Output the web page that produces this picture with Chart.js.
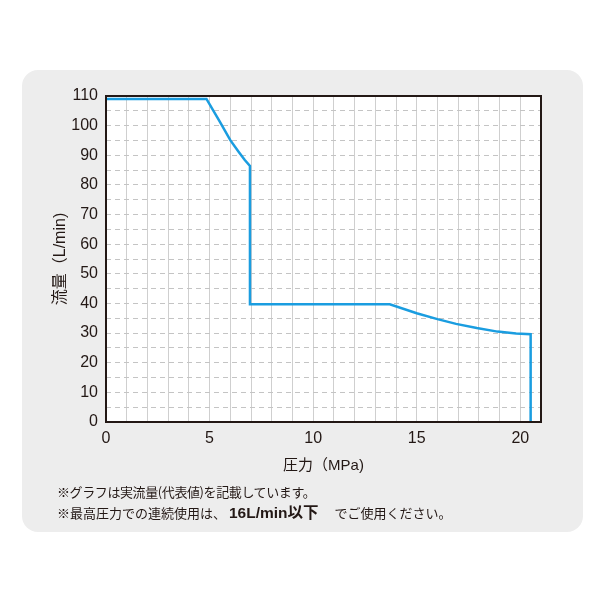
<!DOCTYPE html>
<html>
<head>
<meta charset="utf-8">
<script src="https://cdn.jsdelivr.net/npm/chart.js@4/dist/chart.umd.min.js"></script>
<style>
  html, body { margin: 0; padding: 0; background: #fff; }
  #wrap { position: relative; width: 600px; height: 600px; }
  #panel {
    position: absolute; left: 22px; top: 70px; width: 561px; height: 462px;
    background: #ededed; border-radius: 16px;
  }
  #chart { position: absolute; left: 0; top: 0; }
  .note {
    position: absolute; left: 57px; color: #231815; white-space: nowrap;
    font-family: "Noto Sans CJK JP", sans-serif; font-size: 13px; line-height: 16px;
  }
  .note b { font-family: "Liberation Sans", "Noto Sans CJK JP", sans-serif; font-size: 15.5px; font-weight: bold; }
</style>
</head>
<body>
<div id="wrap">
  <div id="panel"></div>
  <canvas id="chart" width="600" height="600"></canvas>
  <div class="note" style="top:484px; letter-spacing:-0.4px">※グラフは実流量(代表値)を記載しています。</div>
  <div class="note" style="top:505px">※最高圧力での連続使用は、 <b>16L/min以下</b>　 でご使用ください。</div>
</div>
<script>
// 圧力 (MPa) と 流量 (L/min)
const pressure = [0, 4.85, 5.5, 6.0, 6.4, 6.7, 6.95, 6.95, 13.7, 15.0, 16.0, 16.9, 17.9, 18.9, 19.8, 20.5, 20.5];
const flow = [109, 109, 101.3, 95.1, 91.2, 88.4, 86.4, 39.7, 39.7, 36.7, 34.7, 33.1, 31.7, 30.5, 29.9, 29.6, 0];
const xTickLabels = [0, 5, 10, 15, 20];
const yTickLabels = [0, 10, 20, 30, 40, 50, 60, 70, 80, 90, 100, 110];

const ink = "#231815";
const font = "'Liberation Sans', 'Noto Sans CJK JP', sans-serif";

const plotBox = {
  id: "plotBox",
  beforeDraw(chart) {
    const { ctx, chartArea: a } = chart;
    ctx.save();
    ctx.fillStyle = "#ffffff";
    ctx.fillRect(a.left, a.top, a.right - a.left, a.bottom - a.top);
    ctx.restore();
  },
  afterDraw(chart) {
    const { ctx, chartArea: a } = chart;
    ctx.save();
    ctx.strokeStyle = ink;
    ctx.lineWidth = 2;
    ctx.strokeRect(a.left, a.top, a.right - a.left, a.bottom - a.top);
    ctx.restore();
  },
};

new Chart(document.getElementById("chart").getContext("2d"), {
  type: "scatter",
  data: {
    datasets: [
      {
        data: pressure.map((p, i) => ({ x: p, y: flow[i] })),
        showLine: true,
        borderColor: "#1a9de0",
        borderWidth: 2.5,
        pointRadius: 0,
        tension: 0,
      },
    ],
  },
  options: {
    responsive: false,
    animation: false,
    layout: { padding: { left: 51, top: 96, right: 59, bottom: 125 } },
    plugins: { legend: { display: false }, tooltip: { enabled: false } },
    scales: {
      x: {
        type: "linear",
        min: 0,
        max: 21,
        afterFit: (s) => { s.height = 53; },
        grid: { color: "#cfcfcf", lineWidth: 1, drawTicks: false },
        border: { display: false },
        ticks: {
          stepSize: 1,
          autoSkip: false,
          maxRotation: 0,
          padding: 7,
          color: ink,
          font: { family: font, size: 16 },
          callback: (v) => (xTickLabels.includes(v) ? String(v) : ""),
        },
        title: {
          display: true,
          text: "圧力（MPa)",
          color: ink,
          padding: 0,
          font: { family: font, size: 15 },
        },
      },
      y: {
        min: 0,
        max: 110,
        afterFit: (s) => { s.width = 55; },
        grid: { color: "#c4c4c4", lineWidth: 1, drawTicks: false },
        border: { display: false, dash: [5, 4] },
        ticks: {
          stepSize: 5,
          autoSkip: false,
          padding: 8,
          color: ink,
          font: { family: font, size: 16 },
          callback: (v) => (yTickLabels.includes(v) ? String(v) : ""),
        },
        title: {
          display: true,
          text: "流量（L/min)",
          color: ink,
          padding: 0,
          font: { family: font, size: 16 },
        },
      },
    },
  },
  plugins: [plotBox],
});
</script>
</body>
</html>
